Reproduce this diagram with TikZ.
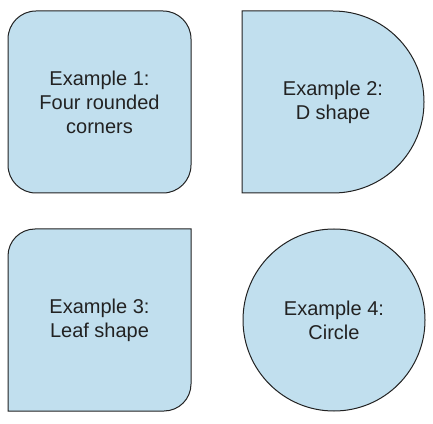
\documentclass[tikz,border=0pt]{standalone}
\usepackage{fontspec}
\setmainfont{Liberation Sans}
\definecolor{shapefill}{RGB}{193,223,238}
\definecolor{shapeline}{RGB}{34,34,34}
\begin{document}
\begin{tikzpicture}[x=1pt,y=1pt,
  shapestyle/.style={fill=shapefill,draw=shapeline,line width=1pt},
  label/.style={align=center,text=shapeline,font=\fontsize{20}{24}\selectfont,inner sep=0pt}]
\useasboundingbox (0,0) rectangle (433,423);
% Example 1
\node[shapestyle,rounded corners=28,minimum width=183,minimum height=182,inner sep=0pt] (r1) at (99.5,321) {};
\node[label] (t1) at (r1.center) {Example 1:\\Four rounded\\corners};
% Example 2: D shape
\draw[shapestyle] (242,412) -- (333,412) arc (90:-90:91) -- (242,230) -- cycle;
\coordinate (d2) at (333,321);
\node[label] (t2) at (d2) {Example 2:\\D shape};
% Example 3: Leaf shape
\draw[shapestyle] (8,12) -- (8,167) arc (180:90:27) -- (191,194) -- (191,39) arc (0:-90:27) -- cycle;
\coordinate (l3) at (99.5,103);
\node[label] (t3) at (l3) {Example 3:\\Leaf shape};
% Example 4: circle
\node[shapestyle,circle,minimum size=182,inner sep=0pt] (c4) at (334,103) {};
\node[label] (t4) at (c4.center) {Example 4:\\Circle};
\end{tikzpicture}
\end{document}
